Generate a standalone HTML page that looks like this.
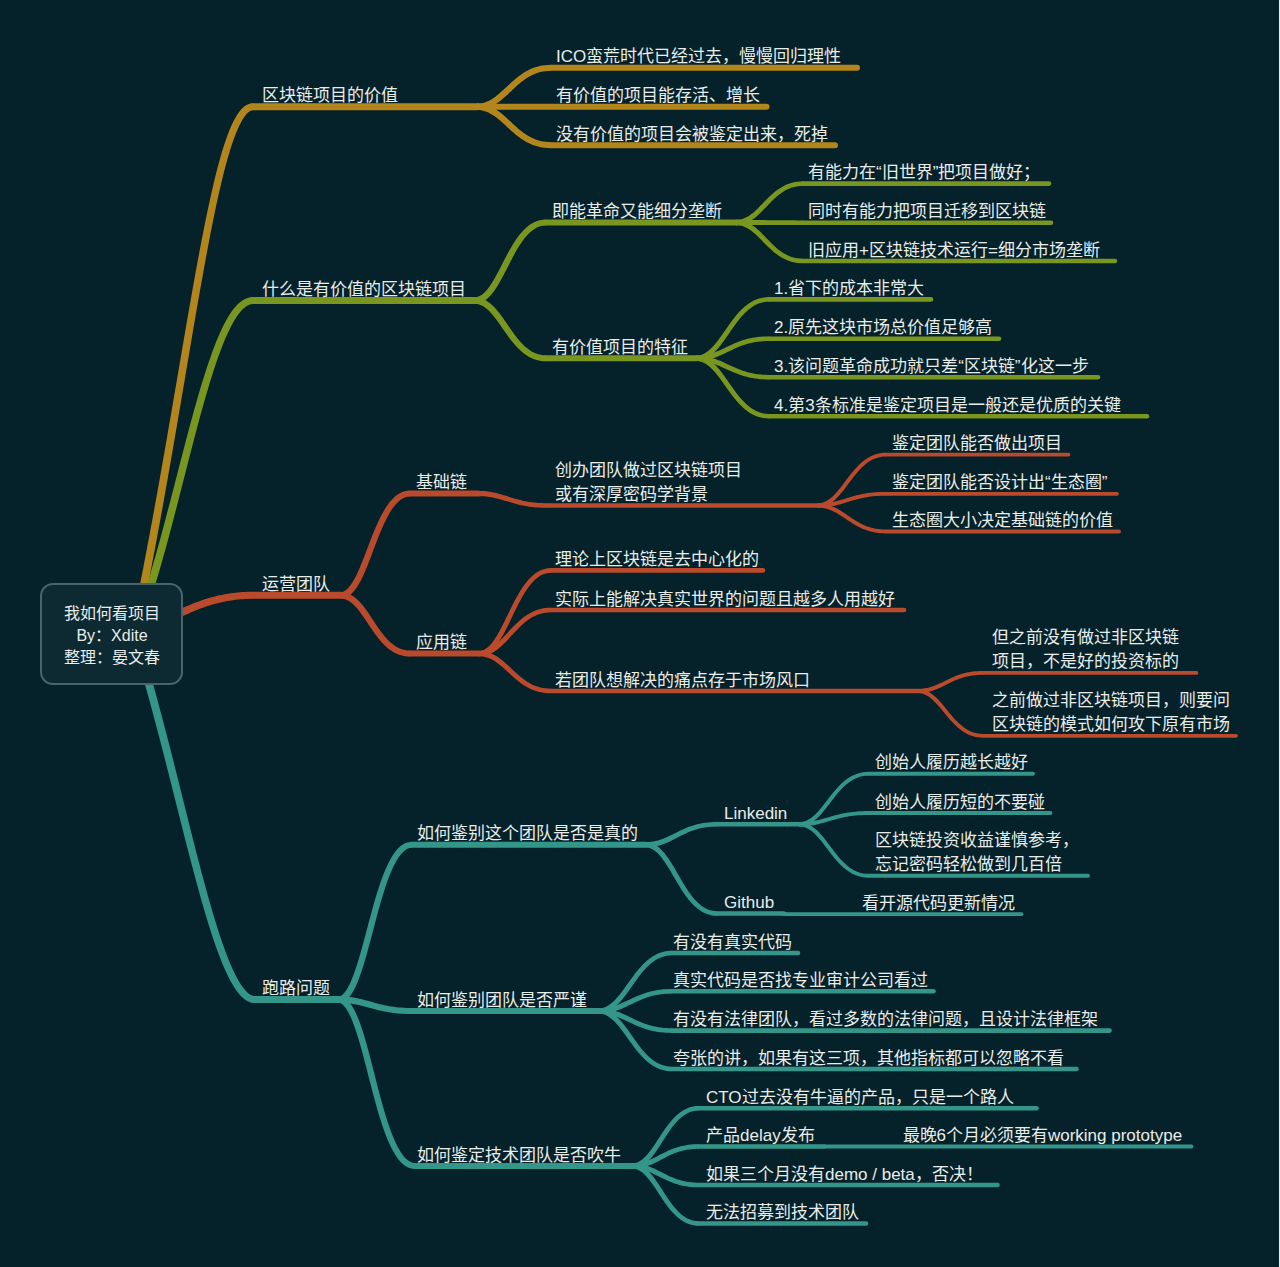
<!DOCTYPE html>
<html lang="zh-CN"><head><meta charset="utf-8"><title>我如何看项目</title>
<style>
html,body{margin:0;padding:0;}
body{width:1280px;height:1267px;overflow:hidden;background:#05212a;position:relative;font-family:"Liberation Sans",sans-serif;}
svg{position:absolute;left:0;top:0;}
path{fill:none;stroke-linecap:round;stroke-linejoin:round;}
path.f{stroke:none;}
.t{position:absolute;color:#e9ede9;font-size:17px;line-height:24px;white-space:nowrap;}
.center{position:absolute;left:40px;top:583px;width:139px;height:98px;border:2px solid #48646d;border-radius:13px;background:#0d2a33;}
.ct{position:absolute;left:41px;top:603px;width:142px;text-align:center;color:#e9ede9;font-size:16px;line-height:22px;white-space:nowrap;}
</style></head><body>
<svg width="1280" height="1267" viewBox="0 0 1280 1267">
<path class="f" d="M137.92,634.82 L140.66,621.56 L143.35,608.31 L146.00,595.08 L148.59,581.88 L151.14,568.71 L153.65,555.58 L156.11,542.50 L158.52,529.48 L160.90,516.52 L163.23,503.63 L165.53,490.82 L167.78,478.09 L170.00,465.46 L172.19,452.92 L174.34,440.49 L176.46,428.17 L178.55,415.98 L180.60,403.91 L182.63,391.97 L184.63,380.18 L186.60,368.54 L188.55,357.06 L190.48,345.74 L192.38,334.59 L194.26,323.62 L196.12,312.83 L197.96,302.24 L199.78,291.85 L201.59,281.66 L203.38,271.70 L205.15,261.95 L206.92,252.43 L208.67,243.15 L210.41,234.11 L212.15,225.33 L213.87,216.80 L215.59,208.54 L217.30,200.55 L219.01,192.85 L220.72,185.43 L222.42,178.31 L224.12,171.50 L225.82,164.99 L227.53,158.81 L229.23,152.95 L230.93,147.44 L232.64,142.26 L234.35,137.44 L236.06,132.98 L237.78,128.90 L239.49,125.20 L241.19,121.89 L242.88,118.99 L244.55,116.51 L246.18,114.45 L247.75,112.84 L249.23,111.65 L250.59,110.87 L251.83,110.44 L253.00,110.30 L253.00,103.30 L250.29,103.59 L247.70,104.46 L245.27,105.82 L243.01,107.60 L240.87,109.77 L238.83,112.31 L236.86,115.20 L234.94,118.45 L233.06,122.05 L231.22,126.00 L229.40,130.30 L227.60,134.94 L225.82,139.92 L224.05,145.23 L222.29,150.86 L220.54,156.82 L218.79,163.10 L217.05,169.68 L215.31,176.57 L213.58,183.75 L211.84,191.22 L210.11,198.98 L208.37,207.01 L206.62,215.31 L204.87,223.87 L203.12,232.68 L201.35,241.75 L199.58,251.05 L197.80,260.59 L196.00,270.35 L194.19,280.34 L192.36,290.54 L190.52,300.94 L188.66,311.54 L186.78,322.33 L184.89,333.30 L182.97,344.45 L181.03,355.78 L179.06,367.26 L177.07,378.90 L175.06,390.68 L173.01,402.61 L170.94,414.67 L168.84,426.86 L166.71,439.17 L164.54,451.59 L162.34,464.11 L160.10,476.73 L157.83,489.44 L155.52,502.24 L153.18,515.11 L150.79,528.05 L148.36,541.05 L145.88,554.11 L143.37,567.21 L140.81,580.35 L138.20,593.53 L135.54,606.73 L132.84,619.95 L130.08,633.18Z" style="fill:#b3861d"/>
<path d="M253,106.8 L477,106.8" stroke="#b3861d" stroke-width="7"/>
<path d="M551,67.8 L857,67.8" stroke="#b3861d" stroke-width="6"/>
<path class="f" d="M477.00,110.05 L479.55,109.94 L482.02,109.65 L484.40,109.18 L486.69,108.54 L488.91,107.74 L491.04,106.81 L493.10,105.76 L495.09,104.60 L497.02,103.34 L498.89,102.00 L500.72,100.58 L502.50,99.11 L504.26,97.59 L505.99,96.02 L507.70,94.43 L509.41,92.82 L511.11,91.20 L512.81,89.58 L514.53,87.96 L516.26,86.37 L518.01,84.81 L519.79,83.29 L521.60,81.81 L523.45,80.39 L525.34,79.04 L527.29,77.76 L529.29,76.56 L531.35,75.45 L533.48,74.44 L535.69,73.54 L537.98,72.75 L540.37,72.08 L542.85,71.54 L545.45,71.14 L548.16,70.89 L551.00,70.80 L551.00,64.80 L547.80,64.89 L544.73,65.16 L541.77,65.60 L538.92,66.20 L536.19,66.95 L533.56,67.84 L531.03,68.86 L528.61,69.99 L526.28,71.23 L524.03,72.55 L521.87,73.96 L519.79,75.43 L517.78,76.96 L515.83,78.53 L513.93,80.13 L512.09,81.75 L510.29,83.39 L508.53,85.02 L506.80,86.65 L505.09,88.26 L503.41,89.83 L501.74,91.36 L500.08,92.85 L498.42,94.27 L496.76,95.62 L495.10,96.89 L493.43,98.07 L491.74,99.16 L490.04,100.14 L488.31,101.01 L486.55,101.76 L484.76,102.39 L482.91,102.89 L481.02,103.26 L479.05,103.48 L477.00,103.55Z" style="fill:#b3861d"/>
<path d="M477,106.8 L766.5,106.8" stroke="#b3861d" stroke-width="6"/>
<path d="M551,145.2 L835,145.2" stroke="#b3861d" stroke-width="6"/>
<path class="f" d="M477.00,110.05 L479.05,110.12 L481.02,110.34 L482.93,110.70 L484.77,111.19 L486.57,111.81 L488.33,112.56 L490.06,113.41 L491.76,114.38 L493.45,115.45 L495.12,116.61 L496.78,117.86 L498.44,119.19 L500.09,120.59 L501.76,122.05 L503.43,123.56 L505.11,125.11 L506.82,126.69 L508.55,128.29 L510.31,129.90 L512.11,131.51 L513.95,133.11 L515.84,134.69 L517.79,136.24 L519.81,137.74 L521.89,139.19 L524.05,140.57 L526.29,141.88 L528.63,143.09 L531.05,144.21 L533.57,145.21 L536.20,146.09 L538.93,146.83 L541.77,147.42 L544.73,147.85 L547.81,148.11 L551.00,148.20 L551.00,142.20 L548.16,142.11 L545.44,141.86 L542.84,141.47 L540.36,140.94 L537.97,140.28 L535.68,139.50 L533.47,138.61 L531.33,137.61 L529.27,136.52 L527.27,135.34 L525.32,134.08 L523.43,132.75 L521.58,131.35 L519.77,129.90 L517.99,128.40 L516.24,126.86 L514.51,125.29 L512.79,123.71 L511.09,122.11 L509.39,120.52 L507.68,118.93 L505.97,117.36 L504.24,115.82 L502.48,114.32 L500.70,112.87 L498.87,111.47 L497.00,110.15 L495.07,108.91 L493.08,107.77 L491.02,106.73 L488.89,105.82 L486.68,105.04 L484.39,104.41 L482.01,103.94 L479.55,103.65 L477.00,103.55Z" style="fill:#b3861d"/>
<path class="f" d="M137.71,635.49 L139.96,629.74 L142.19,623.83 L144.38,617.76 L146.56,611.53 L148.71,605.16 L150.84,598.66 L152.94,592.04 L155.03,585.30 L157.10,578.45 L159.14,571.51 L161.17,564.48 L163.19,557.37 L165.18,550.18 L167.16,542.94 L169.13,535.65 L171.09,528.31 L173.03,520.94 L174.96,513.54 L176.88,506.13 L178.79,498.72 L180.69,491.30 L182.58,483.90 L184.46,476.52 L186.34,469.17 L188.21,461.86 L190.07,454.60 L191.93,447.39 L193.79,440.26 L195.64,433.20 L197.50,426.22 L199.35,419.34 L201.20,412.57 L203.05,405.91 L204.90,399.37 L206.75,392.97 L208.61,386.70 L210.46,380.59 L212.33,374.64 L214.19,368.86 L216.06,363.26 L217.94,357.85 L219.82,352.64 L221.71,347.63 L223.60,342.85 L225.50,338.29 L227.41,333.98 L229.32,329.91 L231.24,326.11 L233.16,322.57 L235.08,319.32 L237.00,316.36 L238.91,313.70 L240.81,311.36 L242.69,309.34 L244.53,307.65 L246.33,306.30 L248.08,305.27 L249.76,304.56 L251.39,304.14 L253.00,304.00 L253.00,297.00 L250.23,297.22 L247.53,297.89 L244.93,298.97 L242.42,300.41 L240.02,302.19 L237.70,304.29 L235.44,306.68 L233.25,309.36 L231.10,312.31 L228.99,315.54 L226.91,319.02 L224.86,322.76 L222.83,326.74 L220.83,330.97 L218.84,335.42 L216.87,340.10 L214.92,345.00 L212.97,350.10 L211.04,355.40 L209.12,360.89 L207.21,366.56 L205.31,372.40 L203.41,378.41 L201.52,384.57 L199.64,390.87 L197.75,397.32 L195.88,403.89 L194.00,410.58 L192.13,417.38 L190.25,424.28 L188.38,431.27 L186.50,438.34 L184.63,445.49 L182.75,452.70 L180.86,459.97 L178.98,467.28 L177.08,474.63 L175.18,482.00 L173.28,489.40 L171.36,496.80 L169.44,504.21 L167.51,511.60 L165.57,518.98 L163.61,526.32 L161.65,533.63 L159.67,540.90 L157.68,548.11 L155.68,555.25 L153.66,562.32 L151.63,569.31 L149.58,576.20 L147.51,582.99 L145.42,589.67 L143.32,596.23 L141.20,602.66 L139.06,608.95 L136.90,615.08 L134.72,621.06 L132.51,626.88 L130.29,632.51Z" style="fill:#789620"/>
<path d="M253,300.5 L474.5,300.5" stroke="#789620" stroke-width="7"/>
<path d="M546,222.5 L736,222.5" stroke="#789620" stroke-width="6"/>
<path class="f" d="M474.50,303.75 L477.24,303.52 L479.86,302.88 L482.35,301.87 L484.69,300.52 L486.90,298.90 L488.99,297.02 L490.97,294.92 L492.87,292.63 L494.71,290.16 L496.48,287.52 L498.22,284.75 L499.92,281.85 L501.59,278.85 L503.24,275.76 L504.88,272.61 L506.52,269.40 L508.16,266.17 L509.81,262.93 L511.48,259.70 L513.16,256.50 L514.87,253.35 L516.61,250.27 L518.38,247.28 L520.19,244.41 L522.05,241.67 L523.95,239.09 L525.89,236.68 L527.89,234.46 L529.94,232.46 L532.04,230.68 L534.19,229.15 L536.40,227.87 L538.67,226.86 L541.01,226.12 L543.45,225.66 L546.00,225.50 L546.00,219.50 L542.72,219.69 L539.56,220.27 L536.53,221.21 L533.65,222.48 L530.92,224.04 L528.31,225.87 L525.84,227.94 L523.49,230.23 L521.24,232.70 L519.09,235.33 L517.02,238.12 L515.03,241.03 L513.11,244.05 L511.25,247.16 L509.44,250.33 L507.67,253.56 L505.95,256.81 L504.25,260.07 L502.58,263.32 L500.93,266.54 L499.30,269.71 L497.67,272.81 L496.05,275.81 L494.42,278.70 L492.79,281.46 L491.15,284.05 L489.51,286.47 L487.85,288.68 L486.18,290.68 L484.51,292.42 L482.84,293.91 L481.17,295.13 L479.51,296.06 L477.87,296.73 L476.21,297.12 L474.50,297.25Z" style="fill:#789620"/>
<path d="M803,183.6 L1049,183.6" stroke="#789620" stroke-width="4.6"/>
<path class="f" d="M736.00,225.15 L738.31,225.04 L740.54,224.75 L742.69,224.27 L744.76,223.63 L746.75,222.84 L748.67,221.92 L750.52,220.87 L752.31,219.72 L754.04,218.47 L755.72,217.14 L757.36,215.74 L758.97,214.27 L760.54,212.76 L762.10,211.20 L763.65,209.61 L765.19,208.01 L766.72,206.39 L768.27,204.77 L769.82,203.16 L771.39,201.56 L772.98,200.00 L774.59,198.47 L776.24,196.99 L777.92,195.56 L779.65,194.20 L781.42,192.91 L783.24,191.71 L785.12,190.59 L787.06,189.57 L789.07,188.66 L791.16,187.87 L793.33,187.19 L795.59,186.65 L797.95,186.25 L800.42,185.99 L803.00,185.90 L803.00,181.30 L800.12,181.38 L797.34,181.65 L794.67,182.08 L792.11,182.68 L789.64,183.42 L787.27,184.30 L785.00,185.31 L782.82,186.43 L780.72,187.65 L778.70,188.96 L776.75,190.35 L774.88,191.81 L773.06,193.32 L771.30,194.88 L769.59,196.47 L767.93,198.08 L766.30,199.70 L764.70,201.33 L763.14,202.95 L761.59,204.55 L760.06,206.12 L758.54,207.65 L757.03,209.14 L755.52,210.56 L754.01,211.91 L752.49,213.19 L750.96,214.37 L749.42,215.46 L747.86,216.45 L746.28,217.32 L744.68,218.07 L743.04,218.70 L741.37,219.20 L739.64,219.56 L737.86,219.78 L736.00,219.85Z" style="fill:#789620"/>
<path d="M803,222.7 L1051,222.7" stroke="#789620" stroke-width="4.6"/>
<path class="f" d="M736.00,225.15 L738.08,225.14 L740.09,225.13 L742.02,225.12 L743.90,225.12 L745.71,225.11 L747.47,225.11 L749.18,225.10 L750.85,225.10 L752.49,225.09 L754.09,225.09 L755.67,225.09 L757.23,225.09 L758.77,225.08 L760.31,225.08 L761.84,225.08 L763.37,225.08 L764.92,225.08 L766.47,225.07 L768.05,225.07 L769.64,225.07 L771.27,225.07 L772.93,225.07 L774.64,225.07 L776.39,225.06 L778.19,225.06 L780.05,225.06 L781.97,225.06 L783.96,225.05 L786.03,225.05 L788.17,225.04 L790.40,225.04 L792.71,225.03 L795.13,225.03 L797.64,225.02 L800.27,225.01 L803.00,225.00 L803.00,220.40 L800.27,220.39 L797.65,220.38 L795.13,220.37 L792.72,220.35 L790.40,220.34 L788.18,220.33 L786.04,220.31 L783.97,220.30 L781.99,220.28 L780.07,220.27 L778.21,220.25 L776.41,220.23 L774.66,220.21 L772.96,220.20 L771.30,220.18 L769.67,220.16 L768.07,220.14 L766.50,220.13 L764.94,220.11 L763.40,220.09 L761.87,220.07 L760.33,220.05 L758.80,220.04 L757.25,220.02 L755.69,220.00 L754.11,219.98 L752.51,219.97 L750.87,219.95 L749.20,219.94 L747.48,219.92 L745.72,219.91 L743.90,219.90 L742.03,219.88 L740.09,219.87 L738.08,219.86 L736.00,219.85Z" style="fill:#789620"/>
<path d="M803,261 L1115,261" stroke="#789620" stroke-width="4.6"/>
<path class="f" d="M736.00,225.15 L737.86,225.22 L739.65,225.44 L741.37,225.80 L743.05,226.29 L744.69,226.91 L746.29,227.66 L747.87,228.52 L749.43,229.49 L750.97,230.57 L752.50,231.75 L754.02,233.01 L755.53,234.35 L757.04,235.75 L758.55,237.22 L760.07,238.74 L761.60,240.29 L763.14,241.88 L764.71,243.48 L766.31,245.09 L767.93,246.70 L769.60,248.29 L771.31,249.87 L773.07,251.41 L774.88,252.90 L776.76,254.34 L778.71,255.72 L780.73,257.02 L782.83,258.23 L785.01,259.34 L787.28,260.33 L789.65,261.20 L792.11,261.94 L794.68,262.53 L797.34,262.96 L800.12,263.22 L803.00,263.30 L803.00,258.70 L800.42,258.61 L797.95,258.36 L795.59,257.96 L793.32,257.42 L791.15,256.75 L789.06,255.96 L787.05,255.06 L785.11,254.06 L783.23,252.95 L781.41,251.76 L779.64,250.48 L777.91,249.13 L776.23,247.72 L774.58,246.26 L772.97,244.74 L771.38,243.19 L769.81,241.62 L768.26,240.02 L766.72,238.42 L765.18,236.82 L763.64,235.23 L762.09,233.66 L760.54,232.12 L758.96,230.62 L757.35,229.17 L755.71,227.78 L754.03,226.46 L752.30,225.22 L750.51,224.08 L748.66,223.05 L746.74,222.13 L744.75,221.35 L742.68,220.72 L740.53,220.25 L738.31,219.96 L736.00,219.85Z" style="fill:#789620"/>
<path d="M546,358.3 L696,358.3" stroke="#789620" stroke-width="6"/>
<path class="f" d="M474.50,303.75 L476.34,303.85 L478.11,304.16 L479.83,304.67 L481.53,305.38 L483.21,306.29 L484.87,307.38 L486.52,308.66 L488.17,310.12 L489.80,311.73 L491.43,313.50 L493.05,315.40 L494.66,317.42 L496.28,319.55 L497.89,321.76 L499.51,324.04 L501.14,326.39 L502.79,328.77 L504.46,331.18 L506.16,333.60 L507.90,336.02 L509.67,338.42 L511.49,340.79 L513.37,343.10 L515.30,345.36 L517.31,347.53 L519.39,349.61 L521.56,351.58 L523.82,353.43 L526.19,355.12 L528.66,356.66 L531.25,358.01 L533.96,359.15 L536.79,360.07 L539.74,360.75 L542.81,361.16 L546.00,361.30 L546.00,355.30 L543.36,355.17 L540.83,354.82 L538.42,354.25 L536.10,353.48 L533.86,352.52 L531.69,351.38 L529.59,350.06 L527.55,348.59 L525.57,346.95 L523.64,345.18 L521.76,343.28 L519.92,341.27 L518.12,339.16 L516.36,336.96 L514.64,334.70 L512.94,332.37 L511.26,330.01 L509.60,327.62 L507.95,325.22 L506.31,322.82 L504.67,320.44 L503.02,318.09 L501.36,315.79 L499.67,313.55 L497.96,311.38 L496.21,309.30 L494.41,307.33 L492.55,305.47 L490.63,303.75 L488.63,302.18 L486.53,300.78 L484.33,299.58 L482.03,298.60 L479.62,297.87 L477.11,297.41 L474.50,297.25Z" style="fill:#789620"/>
<path d="M769,299.4 L931,299.4" stroke="#789620" stroke-width="4.6"/>
<path class="f" d="M696.00,360.95 L698.58,360.79 L701.07,360.33 L703.46,359.61 L705.74,358.63 L707.93,357.43 L710.02,356.04 L712.03,354.47 L713.96,352.74 L715.83,350.87 L717.64,348.88 L719.41,346.78 L721.15,344.58 L722.85,342.31 L724.54,339.97 L726.22,337.58 L727.89,335.16 L729.57,332.71 L731.25,330.26 L732.94,327.82 L734.66,325.40 L736.40,323.02 L738.17,320.70 L739.98,318.44 L741.82,316.27 L743.72,314.20 L745.66,312.24 L747.66,310.41 L749.71,308.72 L751.83,307.18 L754.02,305.81 L756.28,304.61 L758.62,303.61 L761.05,302.80 L763.59,302.21 L766.23,301.83 L769.00,301.70 L769.00,297.10 L765.81,297.23 L762.75,297.64 L759.80,298.32 L756.97,299.23 L754.27,300.37 L751.67,301.72 L749.19,303.25 L746.81,304.95 L744.53,306.80 L742.35,308.78 L740.24,310.87 L738.21,313.07 L736.24,315.35 L734.34,317.69 L732.49,320.09 L730.68,322.52 L728.92,324.98 L727.18,327.44 L725.47,329.89 L723.79,332.32 L722.12,334.71 L720.46,337.04 L718.80,339.30 L717.14,341.48 L715.48,343.55 L713.81,345.50 L712.13,347.32 L710.43,348.99 L708.72,350.50 L706.99,351.83 L705.24,352.98 L703.47,353.93 L701.68,354.68 L699.84,355.22 L697.96,355.54 L696.00,355.65Z" style="fill:#789620"/>
<path d="M769,338.7 L999,338.7" stroke="#789620" stroke-width="4.6"/>
<path class="f" d="M696.00,360.95 L698.37,360.89 L700.66,360.75 L702.88,360.52 L705.02,360.21 L707.10,359.82 L709.11,359.37 L711.06,358.85 L712.96,358.28 L714.82,357.66 L716.63,356.99 L718.40,356.28 L720.14,355.55 L721.86,354.78 L723.56,353.99 L725.24,353.19 L726.92,352.37 L728.60,351.55 L730.29,350.73 L731.98,349.91 L733.70,349.10 L735.43,348.31 L737.20,347.53 L739.01,346.77 L740.87,346.04 L742.77,345.34 L744.73,344.68 L746.76,344.06 L748.85,343.48 L751.03,342.95 L753.29,342.47 L755.64,342.05 L758.09,341.69 L760.64,341.40 L763.31,341.19 L766.09,341.05 L769.00,341.00 L769.00,336.40 L765.95,336.44 L763.02,336.56 L760.21,336.77 L757.51,337.05 L754.91,337.41 L752.40,337.84 L749.99,338.32 L747.67,338.87 L745.44,339.47 L743.28,340.11 L741.19,340.80 L739.17,341.52 L737.21,342.27 L735.30,343.04 L733.45,343.84 L731.65,344.64 L729.88,345.45 L728.14,346.27 L726.44,347.08 L724.76,347.88 L723.09,348.67 L721.44,349.43 L719.79,350.18 L718.14,350.89 L716.49,351.57 L714.82,352.22 L713.14,352.82 L711.42,353.37 L709.68,353.88 L707.90,354.33 L706.07,354.72 L704.19,355.05 L702.25,355.31 L700.25,355.50 L698.16,355.62 L696.00,355.65Z" style="fill:#789620"/>
<path d="M769,377.2 L1098,377.2" stroke="#789620" stroke-width="4.6"/>
<path class="f" d="M696.00,360.95 L698.17,360.98 L700.25,361.09 L702.26,361.28 L704.21,361.53 L706.09,361.85 L707.92,362.23 L709.70,362.66 L711.45,363.15 L713.16,363.68 L714.85,364.26 L716.52,364.88 L718.17,365.54 L719.82,366.23 L721.47,366.95 L723.13,367.69 L724.79,368.44 L726.47,369.22 L728.18,370.00 L729.91,370.78 L731.68,371.56 L733.48,372.34 L735.33,373.10 L737.24,373.85 L739.19,374.57 L741.21,375.27 L743.30,375.93 L745.46,376.55 L747.69,377.12 L750.01,377.65 L752.42,378.12 L754.92,378.53 L757.52,378.87 L760.22,379.15 L763.03,379.35 L765.95,379.47 L769.00,379.50 L769.00,374.90 L766.09,374.85 L763.30,374.72 L760.63,374.51 L758.08,374.23 L755.63,373.89 L753.27,373.48 L751.01,373.02 L748.83,372.51 L746.73,371.95 L744.71,371.34 L742.74,370.70 L740.84,370.03 L738.99,369.32 L737.18,368.59 L735.40,367.84 L733.66,367.07 L731.95,366.29 L730.25,365.50 L728.57,364.71 L726.89,363.92 L725.21,363.13 L723.53,362.36 L721.83,361.60 L720.11,360.86 L718.37,360.15 L716.60,359.47 L714.79,358.82 L712.94,358.22 L711.04,357.67 L709.09,357.17 L707.08,356.74 L705.01,356.37 L702.87,356.07 L700.66,355.85 L698.37,355.70 L696.00,355.65Z" style="fill:#789620"/>
<path d="M769,416.2 L1147,416.2" stroke="#789620" stroke-width="4.6"/>
<path class="f" d="M696.00,360.95 L697.96,361.05 L699.85,361.38 L701.69,361.91 L703.49,362.64 L705.26,363.58 L707.01,364.70 L708.74,366.01 L710.45,367.49 L712.14,369.14 L713.82,370.92 L715.49,372.84 L717.15,374.88 L718.81,377.02 L720.47,379.24 L722.13,381.53 L723.80,383.88 L725.49,386.27 L727.19,388.68 L728.93,391.10 L730.69,393.51 L732.50,395.90 L734.35,398.26 L736.26,400.57 L738.22,402.81 L740.25,404.96 L742.36,407.03 L744.55,408.97 L746.83,410.79 L749.21,412.46 L751.69,413.97 L754.28,415.29 L756.99,416.41 L759.81,417.31 L762.75,417.97 L765.82,418.37 L769.00,418.50 L769.00,413.90 L766.23,413.77 L763.58,413.40 L761.04,412.81 L758.61,412.02 L756.26,411.03 L754.00,409.86 L751.82,408.51 L749.70,407.00 L747.64,405.33 L745.65,403.53 L743.70,401.61 L741.81,399.57 L739.96,397.44 L738.16,395.22 L736.39,392.94 L734.65,390.60 L732.93,388.22 L731.24,385.82 L729.56,383.41 L727.88,381.01 L726.21,378.63 L724.53,376.28 L722.84,373.98 L721.13,371.74 L719.40,369.58 L717.63,367.52 L715.81,365.56 L713.94,363.72 L712.01,362.02 L710.00,360.47 L707.91,359.10 L705.73,357.93 L703.44,356.97 L701.06,356.26 L698.58,355.81 L696.00,355.65Z" style="fill:#789620"/>
<path class="f" d="M135.35,637.76 L137.33,637.03 L139.29,636.29 L141.23,635.52 L143.15,634.74 L145.06,633.95 L146.95,633.15 L148.83,632.34 L150.69,631.51 L152.54,630.68 L154.37,629.83 L156.20,628.99 L158.01,628.13 L159.82,627.27 L161.62,626.41 L163.41,625.54 L165.20,624.67 L166.98,623.80 L168.75,622.93 L170.53,622.06 L172.30,621.20 L174.07,620.33 L175.84,619.47 L177.61,618.62 L179.38,617.77 L181.16,616.92 L182.94,616.09 L184.72,615.26 L186.51,614.44 L188.31,613.64 L190.11,612.84 L191.92,612.06 L193.75,611.29 L195.58,610.54 L197.42,609.80 L199.28,609.07 L201.16,608.36 L203.04,607.67 L204.94,607.00 L206.86,606.35 L208.80,605.72 L210.76,605.11 L212.74,604.52 L214.74,603.96 L216.76,603.42 L218.80,602.90 L220.87,602.41 L222.96,601.95 L225.08,601.52 L227.23,601.11 L229.41,600.73 L231.62,600.39 L233.85,600.07 L236.12,599.79 L238.43,599.54 L240.76,599.32 L243.14,599.14 L245.54,599.00 L247.99,598.90 L250.48,598.83 L253.00,598.80 L253.00,591.80 L250.36,591.81 L247.77,591.87 L245.21,591.96 L242.68,592.09 L240.20,592.26 L237.74,592.47 L235.33,592.72 L232.94,593.00 L230.59,593.31 L228.27,593.66 L225.98,594.04 L223.72,594.45 L221.49,594.89 L219.28,595.36 L217.11,595.85 L214.96,596.38 L212.83,596.93 L210.73,597.50 L208.66,598.10 L206.60,598.72 L204.57,599.37 L202.56,600.03 L200.57,600.72 L198.60,601.42 L196.65,602.14 L194.72,602.87 L192.80,603.62 L190.90,604.39 L189.01,605.17 L187.14,605.96 L185.28,606.76 L183.43,607.57 L181.59,608.39 L179.77,609.22 L177.95,610.05 L176.14,610.89 L174.34,611.74 L172.54,612.59 L170.75,613.44 L168.96,614.29 L167.18,615.15 L165.40,616.00 L163.62,616.86 L161.84,617.71 L160.06,618.55 L158.28,619.40 L156.49,620.24 L154.71,621.07 L152.91,621.89 L151.12,622.71 L149.32,623.52 L147.51,624.32 L145.69,625.10 L143.86,625.88 L142.02,626.64 L140.17,627.39 L138.31,628.13 L136.44,628.85 L134.55,629.55 L132.65,630.24Z" style="fill:#b94a2b"/>
<path d="M253,595.3 L340.7,595.3" stroke="#b94a2b" stroke-width="7"/>
<path d="M410,493.5 L478,493.5" stroke="#b94a2b" stroke-width="6"/>
<path class="f" d="M340.70,598.55 L343.54,598.24 L346.22,597.36 L348.71,595.99 L351.00,594.23 L353.13,592.12 L355.12,589.70 L357.02,587.01 L358.83,584.06 L360.59,580.88 L362.29,577.48 L363.95,573.90 L365.58,570.15 L367.20,566.25 L368.79,562.24 L370.38,558.14 L371.96,553.96 L373.55,549.75 L375.15,545.51 L376.77,541.29 L378.40,537.10 L380.06,532.98 L381.76,528.94 L383.49,525.02 L385.26,521.24 L387.07,517.64 L388.93,514.23 L390.84,511.05 L392.80,508.12 L394.81,505.48 L396.86,503.15 L398.95,501.14 L401.08,499.49 L403.23,498.20 L405.42,497.27 L407.66,496.70 L410.00,496.50 L410.00,490.50 L406.68,490.76 L403.50,491.55 L400.49,492.81 L397.65,494.49 L394.98,496.55 L392.47,498.94 L390.09,501.62 L387.83,504.57 L385.67,507.76 L383.61,511.17 L381.62,514.77 L379.71,518.54 L377.86,522.46 L376.07,526.49 L374.33,530.61 L372.62,534.80 L370.95,539.04 L369.31,543.29 L367.69,547.53 L366.09,551.73 L364.51,555.88 L362.92,559.93 L361.34,563.87 L359.76,567.67 L358.16,571.29 L356.56,574.71 L354.94,577.91 L353.31,580.84 L351.67,583.49 L350.02,585.81 L348.37,587.79 L346.74,589.39 L345.16,590.60 L343.63,591.43 L342.17,591.90 L340.70,592.05Z" style="fill:#b94a2b"/>
<path d="M547,505.5 L817.6,505.5" stroke="#b94a2b" stroke-width="4.6"/>
<path class="f" d="M478.00,496.15 L480.08,496.17 L482.08,496.23 L484.00,496.35 L485.87,496.51 L487.67,496.71 L489.42,496.95 L491.13,497.23 L492.79,497.54 L494.43,497.88 L496.04,498.24 L497.62,498.64 L499.20,499.05 L500.76,499.49 L502.32,499.94 L503.89,500.41 L505.46,500.89 L507.05,501.37 L508.66,501.86 L510.30,502.36 L511.96,502.85 L513.66,503.34 L515.40,503.82 L517.19,504.28 L519.03,504.74 L520.93,505.17 L522.89,505.58 L524.91,505.97 L527.01,506.33 L529.19,506.66 L531.44,506.95 L533.79,507.21 L536.22,507.42 L538.76,507.59 L541.39,507.71 L544.14,507.78 L547.00,507.80 L547.00,503.20 L544.23,503.16 L541.58,503.08 L539.04,502.94 L536.60,502.76 L534.26,502.53 L532.02,502.27 L529.86,501.97 L527.79,501.64 L525.79,501.28 L523.86,500.89 L521.99,500.48 L520.18,500.04 L518.41,499.59 L516.69,499.12 L515.01,498.64 L513.36,498.14 L511.74,497.64 L510.13,497.14 L508.54,496.63 L506.95,496.12 L505.36,495.62 L503.77,495.13 L502.17,494.64 L500.55,494.17 L498.92,493.72 L497.25,493.28 L495.55,492.87 L493.82,492.49 L492.04,492.14 L490.22,491.83 L488.34,491.55 L486.41,491.31 L484.41,491.12 L482.35,490.98 L480.21,490.89 L478.00,490.85Z" style="fill:#b94a2b"/>
<path d="M886,454.6 L1068.5,454.6" stroke="#b94a2b" stroke-width="3.8"/>
<path class="f" d="M817.60,507.60 L819.95,507.47 L822.23,507.09 L824.41,506.47 L826.51,505.65 L828.53,504.64 L830.46,503.45 L832.32,502.11 L834.12,500.63 L835.86,499.02 L837.56,497.31 L839.22,495.50 L840.84,493.61 L842.44,491.65 L844.03,489.63 L845.60,487.57 L847.17,485.48 L848.74,483.37 L850.32,481.25 L851.91,479.14 L853.52,477.05 L855.16,475.00 L856.82,472.99 L858.52,471.04 L860.26,469.16 L862.04,467.36 L863.87,465.67 L865.76,464.08 L867.70,462.61 L869.70,461.27 L871.77,460.08 L873.91,459.04 L876.13,458.16 L878.44,457.46 L880.85,456.94 L883.37,456.61 L886.00,456.50 L886.00,452.70 L883.05,452.82 L880.21,453.17 L877.49,453.75 L874.87,454.53 L872.36,455.51 L869.96,456.66 L867.66,457.98 L865.45,459.44 L863.32,461.03 L861.28,462.73 L859.32,464.54 L857.42,466.43 L855.59,468.40 L853.81,470.42 L852.08,472.49 L850.40,474.60 L848.74,476.72 L847.12,478.85 L845.53,480.97 L843.95,483.07 L842.39,485.13 L840.83,487.15 L839.28,489.11 L837.73,491.00 L836.17,492.79 L834.60,494.49 L833.02,496.07 L831.43,497.52 L829.81,498.84 L828.17,500.01 L826.51,501.02 L824.82,501.86 L823.09,502.52 L821.32,503.01 L819.50,503.30 L817.60,503.40Z" style="fill:#b94a2b"/>
<path d="M886,493.8 L1117,493.8" stroke="#b94a2b" stroke-width="3.8"/>
<path class="f" d="M817.60,507.60 L819.78,507.57 L821.88,507.48 L823.91,507.35 L825.88,507.17 L827.78,506.94 L829.63,506.68 L831.43,506.37 L833.18,506.04 L834.89,505.67 L836.56,505.28 L838.20,504.86 L839.82,504.43 L841.42,503.97 L843.00,503.51 L844.58,503.03 L846.15,502.54 L847.72,502.05 L849.31,501.56 L850.90,501.07 L852.52,500.59 L854.16,500.11 L855.83,499.64 L857.54,499.19 L859.30,498.75 L861.11,498.32 L862.97,497.92 L864.89,497.55 L866.88,497.20 L868.95,496.87 L871.10,496.59 L873.33,496.33 L875.66,496.12 L878.08,495.94 L880.61,495.81 L883.25,495.73 L886.00,495.70 L886.00,491.90 L883.17,491.92 L880.46,491.99 L877.85,492.12 L875.35,492.29 L872.94,492.50 L870.63,492.75 L868.40,493.04 L866.26,493.36 L864.19,493.71 L862.19,494.09 L860.26,494.49 L858.39,494.92 L856.57,495.36 L854.80,495.82 L853.08,496.29 L851.40,496.77 L849.75,497.25 L848.14,497.74 L846.54,498.22 L844.97,498.70 L843.41,499.17 L841.86,499.63 L840.30,500.08 L838.75,500.51 L837.18,500.92 L835.60,501.31 L834.00,501.67 L832.37,502.01 L830.71,502.32 L829.00,502.59 L827.26,502.83 L825.45,503.03 L823.59,503.19 L821.67,503.31 L819.67,503.38 L817.60,503.40Z" style="fill:#b94a2b"/>
<path d="M886,531.5 L1119,531.5" stroke="#b94a2b" stroke-width="3.8"/>
<path class="f" d="M817.60,507.60 L819.61,507.65 L821.54,507.81 L823.40,508.07 L825.20,508.42 L826.95,508.86 L828.65,509.38 L830.31,509.99 L831.94,510.66 L833.54,511.40 L835.12,512.21 L836.68,513.07 L838.23,513.98 L839.77,514.93 L841.32,515.93 L842.87,516.95 L844.43,518.00 L846.00,519.07 L847.60,520.15 L849.22,521.24 L850.88,522.33 L852.57,523.40 L854.30,524.46 L856.08,525.49 L857.92,526.50 L859.81,527.46 L861.77,528.38 L863.80,529.24 L865.91,530.05 L868.09,530.78 L870.36,531.44 L872.72,532.02 L875.17,532.50 L877.72,532.89 L880.37,533.17 L883.13,533.34 L886.00,533.40 L886.00,529.60 L883.29,529.54 L880.70,529.36 L878.22,529.09 L875.84,528.72 L873.56,528.25 L871.37,527.71 L869.26,527.08 L867.23,526.39 L865.28,525.63 L863.38,524.81 L861.55,523.94 L859.77,523.02 L858.03,522.06 L856.34,521.07 L854.68,520.04 L853.04,518.99 L851.44,517.92 L849.85,516.85 L848.27,515.76 L846.69,514.68 L845.12,513.61 L843.54,512.55 L841.95,511.51 L840.34,510.50 L838.71,509.53 L837.05,508.60 L835.35,507.72 L833.61,506.90 L831.82,506.15 L829.98,505.47 L828.08,504.87 L826.13,504.37 L824.10,503.96 L822.01,503.66 L819.84,503.47 L817.60,503.40Z" style="fill:#b94a2b"/>
<path d="M410,653.6 L479,653.6" stroke="#b94a2b" stroke-width="6"/>
<path class="f" d="M340.70,598.55 L342.45,598.65 L344.14,598.96 L345.80,599.47 L347.42,600.18 L349.04,601.08 L350.64,602.18 L352.24,603.47 L353.83,604.94 L355.42,606.57 L356.99,608.35 L358.56,610.27 L360.13,612.30 L361.69,614.45 L363.26,616.68 L364.83,618.98 L366.41,621.35 L368.01,623.75 L369.63,626.18 L371.28,628.62 L372.96,631.06 L374.68,633.48 L376.44,635.87 L378.26,638.21 L380.14,640.48 L382.08,642.68 L384.10,644.78 L386.21,646.77 L388.40,648.63 L390.70,650.34 L393.10,651.89 L395.62,653.26 L398.26,654.42 L401.02,655.35 L403.89,656.04 L406.89,656.46 L410.00,656.60 L410.00,650.60 L407.46,650.47 L405.03,650.12 L402.71,649.55 L400.47,648.78 L398.31,647.82 L396.22,646.67 L394.20,645.35 L392.23,643.86 L390.31,642.22 L388.44,640.43 L386.62,638.52 L384.83,636.49 L383.09,634.36 L381.39,632.14 L379.71,629.86 L378.07,627.51 L376.44,625.13 L374.83,622.72 L373.24,620.30 L371.64,617.88 L370.05,615.48 L368.46,613.11 L366.84,610.79 L365.21,608.53 L363.55,606.34 L361.86,604.24 L360.11,602.25 L358.31,600.38 L356.44,598.64 L354.50,597.05 L352.46,595.64 L350.32,594.42 L348.07,593.43 L345.71,592.68 L343.25,592.21 L340.70,592.05Z" style="fill:#b94a2b"/>
<path d="M551,570.4 L763,570.4" stroke="#b94a2b" stroke-width="4.6"/>
<path class="f" d="M479.00,656.25 L481.68,656.01 L484.25,655.35 L486.68,654.29 L488.97,652.89 L491.14,651.20 L493.19,649.24 L495.16,647.04 L497.04,644.63 L498.86,642.03 L500.63,639.24 L502.36,636.31 L504.05,633.23 L505.73,630.05 L507.39,626.76 L509.03,623.40 L510.68,619.99 L512.33,616.54 L513.99,613.08 L515.66,609.63 L517.36,606.20 L519.08,602.83 L520.84,599.53 L522.63,596.33 L524.47,593.24 L526.35,590.29 L528.28,587.51 L530.27,584.90 L532.31,582.50 L534.41,580.32 L536.56,578.39 L538.78,576.71 L541.06,575.31 L543.41,574.20 L545.84,573.38 L548.36,572.88 L551.00,572.70 L551.00,568.10 L547.76,568.30 L544.65,568.90 L541.68,569.87 L538.84,571.19 L536.14,572.83 L533.57,574.74 L531.12,576.91 L528.79,579.30 L526.55,581.90 L524.41,584.68 L522.35,587.62 L520.36,590.70 L518.43,593.90 L516.57,597.19 L514.75,600.56 L512.98,603.99 L511.24,607.45 L509.53,610.92 L507.85,614.39 L506.19,617.82 L504.53,621.20 L502.89,624.51 L501.24,627.73 L499.60,630.82 L497.94,633.78 L496.28,636.57 L494.60,639.17 L492.91,641.57 L491.20,643.73 L489.47,645.63 L487.74,647.26 L486.00,648.60 L484.27,649.64 L482.54,650.37 L480.79,650.81 L479.00,650.95Z" style="fill:#b94a2b"/>
<path d="M551,610 L904,610" stroke="#b94a2b" stroke-width="4.6"/>
<path class="f" d="M479.00,656.25 L481.47,656.13 L483.86,655.80 L486.16,655.27 L488.38,654.56 L490.51,653.68 L492.57,652.65 L494.55,651.48 L496.46,650.20 L498.31,648.81 L500.11,647.32 L501.87,645.75 L503.59,644.12 L505.28,642.42 L506.96,640.68 L508.61,638.91 L510.27,637.11 L511.92,635.30 L513.58,633.48 L515.25,631.67 L516.93,629.89 L518.65,628.13 L520.39,626.41 L522.16,624.75 L523.98,623.15 L525.83,621.62 L527.74,620.17 L529.71,618.82 L531.74,617.56 L533.83,616.42 L536.00,615.40 L538.25,614.50 L540.59,613.75 L543.02,613.14 L545.56,612.69 L548.22,612.40 L551.00,612.30 L551.00,607.70 L547.91,607.79 L544.93,608.09 L542.07,608.58 L539.31,609.24 L536.67,610.08 L534.13,611.06 L531.70,612.19 L529.36,613.44 L527.11,614.81 L524.95,616.28 L522.86,617.83 L520.85,619.46 L518.91,621.15 L517.02,622.89 L515.19,624.67 L513.40,626.48 L511.65,628.30 L509.94,630.12 L508.26,631.93 L506.60,633.73 L504.95,635.49 L503.32,637.21 L501.69,638.88 L500.06,640.48 L498.43,642.00 L496.80,643.43 L495.15,644.77 L493.49,646.00 L491.81,647.11 L490.10,648.09 L488.37,648.94 L486.60,649.65 L484.79,650.21 L482.93,650.62 L481.00,650.87 L479.00,650.95Z" style="fill:#b94a2b"/>
<path d="M551,691 L917.5,691" stroke="#b94a2b" stroke-width="4.6"/>
<path class="f" d="M479.00,656.25 L481.04,656.32 L482.99,656.53 L484.88,656.89 L486.71,657.38 L488.50,657.99 L490.24,658.72 L491.95,659.57 L493.64,660.52 L495.30,661.57 L496.95,662.71 L498.58,663.94 L500.21,665.24 L501.83,666.61 L503.46,668.04 L505.09,669.51 L506.73,671.02 L508.39,672.56 L510.08,674.11 L511.79,675.68 L513.54,677.24 L515.32,678.79 L517.16,680.31 L519.05,681.81 L520.99,683.26 L523.00,684.66 L525.09,685.99 L527.25,687.24 L529.49,688.41 L531.82,689.48 L534.25,690.44 L536.77,691.28 L539.40,691.99 L542.13,692.56 L544.97,692.97 L547.93,693.22 L551.00,693.30 L551.00,688.70 L548.20,688.61 L545.52,688.36 L542.96,687.97 L540.50,687.44 L538.15,686.79 L535.88,686.02 L533.70,685.13 L531.60,684.15 L529.57,683.07 L527.60,681.90 L525.69,680.66 L523.83,679.35 L522.02,677.97 L520.25,676.55 L518.51,675.08 L516.80,673.57 L515.11,672.04 L513.44,670.49 L511.79,668.93 L510.13,667.37 L508.48,665.83 L506.82,664.30 L505.14,662.80 L503.45,661.35 L501.72,659.94 L499.96,658.59 L498.16,657.32 L496.31,656.12 L494.40,655.02 L492.42,654.02 L490.38,653.14 L488.26,652.39 L486.07,651.78 L483.80,651.33 L481.44,651.05 L479.00,650.95Z" style="fill:#b94a2b"/>
<path d="M983,672.9 L1196.5,672.9" stroke="#b94a2b" stroke-width="3.8"/>
<path class="f" d="M917.50,693.10 L919.62,693.05 L921.67,692.92 L923.65,692.71 L925.56,692.43 L927.42,692.08 L929.21,691.67 L930.96,691.19 L932.66,690.67 L934.32,690.10 L935.94,689.49 L937.53,688.84 L939.09,688.17 L940.63,687.46 L942.15,686.74 L943.66,686.00 L945.17,685.25 L946.67,684.50 L948.19,683.74 L949.71,682.99 L951.25,682.25 L952.82,681.51 L954.41,680.80 L956.04,680.10 L957.70,679.43 L959.42,678.78 L961.18,678.17 L963.00,677.60 L964.89,677.06 L966.85,676.58 L968.88,676.14 L970.99,675.75 L973.19,675.43 L975.49,675.16 L977.89,674.97 L980.39,674.85 L983.00,674.80 L983.00,671.00 L980.27,671.04 L977.64,671.15 L975.12,671.35 L972.70,671.61 L970.37,671.95 L968.13,672.34 L965.98,672.80 L963.90,673.30 L961.90,673.86 L959.96,674.46 L958.09,675.09 L956.29,675.76 L954.53,676.45 L952.83,677.17 L951.17,677.90 L949.55,678.65 L947.97,679.40 L946.42,680.16 L944.89,680.91 L943.38,681.65 L941.89,682.38 L940.40,683.09 L938.92,683.78 L937.44,684.45 L935.96,685.08 L934.46,685.68 L932.94,686.24 L931.40,686.76 L929.83,687.23 L928.22,687.65 L926.58,688.02 L924.88,688.33 L923.14,688.58 L921.33,688.76 L919.45,688.87 L917.50,688.90Z" style="fill:#b94a2b"/>
<path d="M983,735.8 L1236,735.8" stroke="#b94a2b" stroke-width="3.8"/>
<path class="f" d="M917.50,693.10 L919.33,693.19 L921.08,693.45 L922.78,693.87 L924.44,694.46 L926.05,695.20 L927.64,696.08 L929.21,697.11 L930.75,698.26 L932.27,699.54 L933.78,700.92 L935.28,702.41 L936.76,703.99 L938.25,705.64 L939.73,707.36 L941.22,709.14 L942.72,710.95 L944.23,712.80 L945.76,714.67 L947.31,716.54 L948.89,718.41 L950.51,720.26 L952.17,722.09 L953.87,723.87 L955.63,725.61 L957.45,727.28 L959.34,728.87 L961.30,730.37 L963.33,731.78 L965.45,733.06 L967.66,734.22 L969.96,735.24 L972.36,736.09 L974.86,736.78 L977.47,737.29 L980.18,737.60 L983.00,737.70 L983.00,733.90 L980.47,733.80 L978.06,733.51 L975.75,733.05 L973.53,732.43 L971.40,731.66 L969.35,730.74 L967.37,729.69 L965.46,728.52 L963.60,727.23 L961.80,725.83 L960.06,724.34 L958.35,722.76 L956.69,721.11 L955.07,719.40 L953.48,717.63 L951.91,715.83 L950.37,713.99 L948.85,712.13 L947.34,710.27 L945.83,708.41 L944.33,706.57 L942.82,704.75 L941.30,702.97 L939.77,701.24 L938.21,699.57 L936.62,697.98 L934.99,696.46 L933.31,695.05 L931.59,693.74 L929.80,692.55 L927.94,691.51 L926.01,690.61 L924.00,689.89 L921.91,689.35 L919.75,689.02 L917.50,688.90Z" style="fill:#b94a2b"/>
<path class="f" d="M130.19,635.22 L132.60,642.82 L134.99,650.51 L137.36,658.30 L139.70,666.17 L142.02,674.12 L144.31,682.13 L146.59,690.20 L148.85,698.32 L151.08,706.49 L153.30,714.70 L155.49,722.93 L157.67,731.18 L159.83,739.45 L161.97,747.73 L164.10,756.00 L166.21,764.26 L168.30,772.50 L170.38,780.72 L172.45,788.91 L174.50,797.05 L176.53,805.15 L178.56,813.19 L180.57,821.16 L182.57,829.07 L184.56,836.90 L186.54,844.64 L188.51,852.28 L190.47,859.83 L192.42,867.26 L194.36,874.58 L196.30,881.77 L198.23,888.83 L200.15,895.75 L202.07,902.52 L203.99,909.14 L205.90,915.60 L207.80,921.88 L209.71,927.99 L211.61,933.92 L213.51,939.65 L215.41,945.18 L217.31,950.51 L219.22,955.62 L221.12,960.51 L223.03,965.18 L224.95,969.61 L226.87,973.80 L228.81,977.75 L230.75,981.44 L232.71,984.87 L234.69,988.04 L236.70,990.94 L238.74,993.56 L240.83,995.90 L242.97,997.96 L245.19,999.71 L247.50,1001.14 L249.91,1002.21 L252.42,1002.88 L255.00,1003.10 L255.00,996.10 L253.67,995.97 L252.29,995.59 L250.83,994.92 L249.28,993.95 L247.65,992.64 L245.96,991.00 L244.23,989.03 L242.47,986.74 L240.68,984.13 L238.87,981.21 L237.06,978.00 L235.23,974.50 L233.40,970.72 L231.56,966.68 L229.72,962.38 L227.88,957.83 L226.03,953.04 L224.17,948.02 L222.32,942.77 L220.46,937.31 L218.60,931.65 L216.73,925.78 L214.86,919.72 L212.99,913.48 L211.11,907.07 L209.22,900.49 L207.33,893.75 L205.43,886.85 L203.52,879.82 L201.61,872.65 L199.69,865.35 L197.76,857.93 L195.82,850.40 L193.87,842.76 L191.91,835.03 L189.94,827.21 L187.96,819.31 L185.96,811.33 L183.95,803.29 L181.93,795.19 L179.90,787.04 L177.85,778.84 L175.79,770.61 L173.71,762.36 L171.61,754.08 L169.50,745.79 L167.37,737.50 L165.22,729.21 L163.05,720.93 L160.86,712.67 L158.66,704.44 L156.43,696.24 L154.18,688.08 L151.92,679.97 L149.62,671.92 L147.31,663.94 L144.97,656.02 L142.61,648.18 L140.22,640.43 L137.81,632.78Z" style="fill:#349689"/>
<path d="M255,999.6 L338.7,999.6" stroke="#349689" stroke-width="7"/>
<path d="M412,844.7 L645.4,844.7" stroke="#349689" stroke-width="6"/>
<path class="f" d="M338.70,1002.85 L341.94,1002.34 L344.90,1000.96 L347.51,998.90 L349.87,996.29 L352.04,993.19 L354.09,989.63 L356.04,985.64 L357.92,981.25 L359.74,976.49 L361.52,971.40 L363.26,966.00 L364.98,960.34 L366.67,954.45 L368.35,948.37 L370.02,942.15 L371.70,935.81 L373.38,929.39 L375.07,922.95 L376.78,916.51 L378.52,910.12 L380.29,903.82 L382.09,897.65 L383.93,891.64 L385.82,885.85 L387.76,880.30 L389.75,875.05 L391.80,870.14 L393.92,865.61 L396.09,861.50 L398.31,857.86 L400.58,854.74 L402.88,852.17 L405.17,850.19 L407.45,848.80 L409.71,847.98 L412.00,847.70 L412.00,841.70 L408.31,842.13 L404.83,843.37 L401.61,845.31 L398.63,847.86 L395.85,850.93 L393.25,854.49 L390.79,858.49 L388.44,862.89 L386.20,867.67 L384.05,872.78 L381.98,878.19 L379.98,883.87 L378.04,889.78 L376.15,895.87 L374.32,902.11 L372.52,908.47 L370.76,914.89 L369.03,921.35 L367.32,927.80 L365.63,934.20 L363.95,940.52 L362.27,946.71 L360.59,952.73 L358.90,958.54 L357.20,964.10 L355.49,969.37 L353.76,974.30 L352.00,978.85 L350.22,982.98 L348.42,986.62 L346.61,989.75 L344.82,992.29 L343.07,994.21 L341.45,995.48 L340.01,996.15 L338.70,996.35Z" style="fill:#349689"/>
<path d="M717,824.3 L799,824.3" stroke="#349689" stroke-width="4.6"/>
<path class="f" d="M645.40,847.35 L647.74,847.29 L649.99,847.14 L652.17,846.90 L654.28,846.57 L656.32,846.17 L658.30,845.70 L660.23,845.16 L662.10,844.57 L663.92,843.92 L665.70,843.22 L667.44,842.49 L669.15,841.72 L670.84,840.92 L672.50,840.10 L674.16,839.26 L675.80,838.41 L677.45,837.56 L679.10,836.71 L680.76,835.86 L682.44,835.01 L684.15,834.19 L685.88,833.38 L687.65,832.59 L689.47,831.83 L691.33,831.11 L693.25,830.42 L695.23,829.77 L697.28,829.17 L699.41,828.62 L701.62,828.12 L703.92,827.69 L706.32,827.32 L708.82,827.02 L711.43,826.80 L714.15,826.65 L717.00,826.60 L717.00,822.00 L714.00,822.04 L711.13,822.17 L708.36,822.38 L705.70,822.68 L703.15,823.05 L700.69,823.50 L698.32,824.01 L696.04,824.58 L693.84,825.20 L691.72,825.88 L689.66,826.59 L687.68,827.34 L685.75,828.13 L683.88,828.93 L682.06,829.76 L680.29,830.60 L678.56,831.45 L676.86,832.29 L675.18,833.14 L673.53,833.97 L671.90,834.79 L670.28,835.59 L668.66,836.36 L667.05,837.11 L665.43,837.81 L663.80,838.48 L662.15,839.11 L660.47,839.68 L658.77,840.21 L657.03,840.68 L655.24,841.08 L653.40,841.43 L651.51,841.70 L649.55,841.90 L647.51,842.02 L645.40,842.05Z" style="fill:#349689"/>
<path d="M868.5,773.75 L1033,773.75" stroke="#349689" stroke-width="3.8"/>
<path class="f" d="M799.00,826.40 L801.38,826.27 L803.68,825.89 L805.90,825.29 L808.02,824.47 L810.07,823.47 L812.03,822.29 L813.92,820.96 L815.75,819.49 L817.52,817.89 L819.24,816.19 L820.92,814.40 L822.58,812.52 L824.20,810.57 L825.81,808.57 L827.41,806.52 L829.01,804.44 L830.60,802.35 L832.21,800.25 L833.83,798.15 L835.46,796.08 L837.12,794.03 L838.82,792.04 L840.54,790.10 L842.31,788.23 L844.12,786.45 L845.98,784.77 L847.89,783.19 L849.87,781.73 L851.90,780.40 L854.01,779.21 L856.19,778.18 L858.45,777.30 L860.81,776.60 L863.26,776.09 L865.82,775.76 L868.50,775.65 L868.50,771.85 L865.51,771.97 L862.63,772.32 L859.87,772.89 L857.22,773.66 L854.67,774.63 L852.23,775.78 L849.89,777.08 L847.65,778.53 L845.50,780.11 L843.42,781.80 L841.43,783.60 L839.50,785.48 L837.64,787.43 L835.83,789.44 L834.08,791.50 L832.36,793.58 L830.68,795.69 L829.04,797.80 L827.42,799.91 L825.81,802.00 L824.23,804.05 L822.65,806.05 L821.07,808.00 L819.49,809.87 L817.91,811.65 L816.32,813.34 L814.71,814.91 L813.09,816.35 L811.44,817.66 L809.78,818.82 L808.09,819.82 L806.37,820.66 L804.61,821.32 L802.80,821.81 L800.94,822.10 L799.00,822.20Z" style="fill:#349689"/>
<path d="M868.5,813 L1050.5,813" stroke="#349689" stroke-width="3.8"/>
<path class="f" d="M799.00,826.40 L801.21,826.37 L803.34,826.29 L805.40,826.16 L807.40,825.98 L809.33,825.76 L811.20,825.51 L813.02,825.22 L814.80,824.89 L816.54,824.54 L818.24,824.16 L819.90,823.76 L821.55,823.34 L823.17,822.90 L824.78,822.45 L826.38,821.99 L827.97,821.52 L829.57,821.05 L831.18,820.57 L832.80,820.10 L834.45,819.63 L836.11,819.17 L837.82,818.71 L839.56,818.27 L841.34,817.85 L843.18,817.44 L845.07,817.05 L847.03,816.69 L849.06,816.35 L851.16,816.04 L853.34,815.76 L855.61,815.51 L857.98,815.30 L860.44,815.14 L863.02,815.01 L865.70,814.93 L868.50,814.90 L868.50,811.10 L865.63,811.12 L862.87,811.19 L860.23,811.31 L857.69,811.47 L855.25,811.67 L852.90,811.92 L850.64,812.19 L848.46,812.50 L846.36,812.84 L844.33,813.21 L842.37,813.60 L840.47,814.01 L838.63,814.44 L836.83,814.88 L835.09,815.34 L833.38,815.80 L831.71,816.26 L830.06,816.73 L828.45,817.20 L826.85,817.66 L825.26,818.11 L823.68,818.56 L822.10,818.99 L820.52,819.40 L818.93,819.80 L817.32,820.18 L815.69,820.53 L814.03,820.85 L812.34,821.15 L810.61,821.42 L808.83,821.65 L806.99,821.84 L805.10,822.00 L803.14,822.11 L801.11,822.18 L799.00,822.20Z" style="fill:#349689"/>
<path d="M868.5,875.75 L1088,875.75" stroke="#349689" stroke-width="3.8"/>
<path class="f" d="M799.00,826.40 L800.93,826.50 L802.79,826.80 L804.60,827.29 L806.35,827.96 L808.07,828.82 L809.77,829.84 L811.43,831.02 L813.07,832.35 L814.70,833.82 L816.30,835.42 L817.90,837.13 L819.48,838.95 L821.06,840.86 L822.63,842.84 L824.22,844.88 L825.80,846.96 L827.41,849.09 L829.03,851.23 L830.67,853.38 L832.35,855.53 L834.07,857.65 L835.82,859.75 L837.63,861.79 L839.49,863.78 L841.42,865.69 L843.41,867.52 L845.48,869.24 L847.64,870.85 L849.88,872.32 L852.22,873.65 L854.66,874.82 L857.21,875.80 L859.86,876.59 L862.63,877.18 L865.51,877.53 L868.50,877.65 L868.50,873.85 L865.82,873.73 L863.26,873.41 L860.81,872.88 L858.46,872.17 L856.20,871.28 L854.02,870.23 L851.91,869.02 L849.88,867.67 L847.91,866.18 L845.99,864.58 L844.13,862.86 L842.32,861.04 L840.55,859.14 L838.83,857.17 L837.14,855.14 L835.47,853.06 L833.84,850.95 L832.22,848.82 L830.61,846.68 L829.02,844.55 L827.42,842.43 L825.82,840.35 L824.21,838.31 L822.59,836.33 L820.94,834.42 L819.25,832.59 L817.53,830.86 L815.76,829.24 L813.94,827.74 L812.04,826.39 L810.08,825.19 L808.04,824.16 L805.91,823.33 L803.69,822.72 L801.39,822.33 L799.00,822.20Z" style="fill:#349689"/>
<path d="M717,913.5 L784,913.5" stroke="#349689" stroke-width="4.6"/>
<path class="f" d="M645.40,847.35 L647.25,847.47 L649.05,847.84 L650.80,848.46 L652.54,849.32 L654.26,850.43 L655.98,851.76 L657.68,853.32 L659.36,855.09 L661.04,857.06 L662.69,859.19 L664.34,861.49 L665.98,863.92 L667.61,866.47 L669.24,869.12 L670.87,871.85 L672.51,874.64 L674.17,877.48 L675.84,880.35 L677.54,883.22 L679.27,886.09 L681.04,888.92 L682.85,891.72 L684.71,894.45 L686.63,897.11 L688.62,899.66 L690.68,902.10 L692.82,904.41 L695.06,906.57 L697.39,908.56 L699.83,910.35 L702.38,911.93 L705.05,913.27 L707.85,914.36 L710.78,915.15 L713.83,915.64 L717.00,915.80 L717.00,911.20 L714.33,911.05 L711.77,910.62 L709.33,909.94 L706.97,909.01 L704.69,907.84 L702.48,906.46 L700.34,904.86 L698.27,903.06 L696.25,901.09 L694.28,898.94 L692.37,896.65 L690.51,894.22 L688.69,891.68 L686.92,889.04 L685.18,886.32 L683.46,883.53 L681.78,880.71 L680.12,877.85 L678.47,874.99 L676.83,872.14 L675.19,869.31 L673.55,866.53 L671.89,863.80 L670.22,861.16 L668.53,858.60 L666.80,856.16 L665.03,853.84 L663.20,851.67 L661.32,849.66 L659.35,847.83 L657.30,846.20 L655.14,844.80 L652.88,843.65 L650.49,842.78 L648.00,842.24 L645.40,842.05Z" style="fill:#349689"/>
<path d="M784,914.2 L1021.5,914.2" stroke="#349689" stroke-width="3.8"/>
<path d="M412,1011 L598.5,1011" stroke="#349689" stroke-width="6"/>
<path class="f" d="M338.70,1002.85 L340.90,1002.87 L343.02,1002.93 L345.07,1003.05 L347.04,1003.20 L348.96,1003.39 L350.81,1003.62 L352.62,1003.89 L354.39,1004.18 L356.12,1004.51 L357.83,1004.86 L359.51,1005.23 L361.17,1005.63 L362.83,1006.04 L364.49,1006.48 L366.15,1006.92 L367.82,1007.38 L369.51,1007.84 L371.22,1008.31 L372.95,1008.78 L374.72,1009.25 L376.53,1009.72 L378.38,1010.18 L380.28,1010.62 L382.24,1011.06 L384.26,1011.47 L386.34,1011.87 L388.50,1012.24 L390.73,1012.58 L393.04,1012.90 L395.45,1013.18 L397.94,1013.42 L400.53,1013.63 L403.23,1013.79 L406.03,1013.91 L408.96,1013.98 L412.00,1014.00 L412.00,1008.00 L409.06,1007.97 L406.25,1007.89 L403.55,1007.76 L400.97,1007.59 L398.49,1007.38 L396.11,1007.13 L393.83,1006.85 L391.63,1006.54 L389.51,1006.20 L387.46,1005.83 L385.48,1005.44 L383.55,1005.03 L381.68,1004.60 L379.86,1004.16 L378.07,1003.71 L376.32,1003.24 L374.59,1002.77 L372.89,1002.29 L371.19,1001.81 L369.51,1001.33 L367.82,1000.86 L366.13,1000.39 L364.42,999.93 L362.70,999.48 L360.96,999.05 L359.19,998.64 L357.38,998.26 L355.53,997.90 L353.64,997.56 L351.70,997.27 L349.70,997.00 L347.64,996.78 L345.52,996.60 L343.32,996.47 L341.05,996.38 L338.70,996.35Z" style="fill:#349689"/>
<path d="M672,953 L798,953" stroke="#349689" stroke-width="4.6"/>
<path class="f" d="M598.50,1013.65 L601.09,1013.49 L603.59,1013.04 L605.98,1012.33 L608.28,1011.37 L610.48,1010.20 L612.58,1008.82 L614.60,1007.27 L616.55,1005.57 L618.43,1003.73 L620.26,1001.77 L622.04,999.70 L623.79,997.54 L625.51,995.30 L627.21,992.99 L628.90,990.64 L630.58,988.25 L632.27,985.85 L633.96,983.43 L635.67,981.03 L637.39,978.65 L639.15,976.31 L640.93,974.02 L642.75,971.80 L644.61,969.66 L646.51,967.62 L648.47,965.69 L650.48,963.89 L652.55,962.22 L654.68,960.71 L656.89,959.35 L659.17,958.18 L661.53,957.18 L663.98,956.39 L666.54,955.80 L669.21,955.43 L672.00,955.30 L672.00,950.70 L668.80,950.83 L665.71,951.23 L662.75,951.89 L659.91,952.79 L657.19,953.92 L654.58,955.24 L652.08,956.75 L649.69,958.42 L647.40,960.24 L645.19,962.19 L643.07,964.25 L641.03,966.41 L639.05,968.66 L637.13,970.97 L635.27,973.33 L633.45,975.72 L631.67,978.14 L629.92,980.57 L628.21,982.98 L626.51,985.37 L624.83,987.73 L623.15,990.02 L621.48,992.25 L619.82,994.39 L618.14,996.43 L616.46,998.35 L614.77,1000.14 L613.06,1001.79 L611.34,1003.27 L609.60,1004.59 L607.84,1005.71 L606.05,1006.65 L604.24,1007.39 L602.39,1007.92 L600.48,1008.25 L598.50,1008.35Z" style="fill:#349689"/>
<path d="M672,991.3 L933.5,991.3" stroke="#349689" stroke-width="4.6"/>
<path class="f" d="M598.50,1013.65 L600.89,1013.59 L603.20,1013.45 L605.42,1013.21 L607.58,1012.90 L609.67,1012.52 L611.69,1012.06 L613.66,1011.54 L615.57,1010.97 L617.44,1010.34 L619.26,1009.67 L621.05,1008.96 L622.80,1008.22 L624.53,1007.45 L626.24,1006.66 L627.94,1005.85 L629.63,1005.03 L631.32,1004.21 L633.01,1003.38 L634.72,1002.56 L636.44,1001.75 L638.20,1000.95 L639.98,1000.16 L641.80,999.40 L643.67,998.67 L645.58,997.97 L647.56,997.30 L649.60,996.67 L651.71,996.09 L653.90,995.56 L656.18,995.08 L658.54,994.65 L661.01,994.30 L663.58,994.01 L666.27,993.79 L669.07,993.65 L672.00,993.60 L672.00,989.00 L668.93,989.04 L665.98,989.16 L663.15,989.37 L660.43,989.65 L657.81,990.01 L655.29,990.44 L652.87,990.93 L650.53,991.48 L648.28,992.08 L646.11,992.73 L644.00,993.42 L641.97,994.14 L640.00,994.90 L638.08,995.68 L636.22,996.47 L634.40,997.28 L632.62,998.10 L630.87,998.92 L629.16,999.73 L627.46,1000.54 L625.79,1001.33 L624.12,1002.10 L622.46,1002.85 L620.80,1003.56 L619.14,1004.25 L617.46,1004.90 L615.76,1005.50 L614.04,1006.06 L612.28,1006.57 L610.49,1007.02 L608.65,1007.41 L606.75,1007.75 L604.80,1008.01 L602.78,1008.20 L600.68,1008.32 L598.50,1008.35Z" style="fill:#349689"/>
<path d="M672,1030.6 L1109.5,1030.6" stroke="#349689" stroke-width="4.6"/>
<path class="f" d="M598.50,1013.65 L600.68,1013.68 L602.78,1013.80 L604.80,1013.99 L606.76,1014.25 L608.65,1014.58 L610.49,1014.97 L612.28,1015.42 L614.04,1015.93 L615.76,1016.49 L617.46,1017.09 L619.14,1017.73 L620.81,1018.41 L622.47,1019.13 L624.13,1019.87 L625.79,1020.64 L627.47,1021.42 L629.16,1022.22 L630.88,1023.03 L632.62,1023.85 L634.40,1024.66 L636.22,1025.47 L638.09,1026.26 L640.00,1027.03 L641.97,1027.78 L644.01,1028.50 L646.11,1029.19 L648.28,1029.83 L650.54,1030.43 L652.87,1030.98 L655.30,1031.47 L657.81,1031.89 L660.43,1032.25 L663.15,1032.53 L665.98,1032.74 L668.93,1032.86 L672.00,1032.90 L672.00,1028.30 L669.07,1028.25 L666.27,1028.11 L663.58,1027.90 L661.01,1027.61 L658.54,1027.25 L656.17,1026.83 L653.90,1026.35 L651.71,1025.82 L649.60,1025.24 L647.55,1024.62 L645.58,1023.95 L643.66,1023.25 L641.80,1022.52 L639.98,1021.77 L638.19,1020.99 L636.44,1020.19 L634.71,1019.38 L633.01,1018.57 L631.31,1017.74 L629.62,1016.92 L627.93,1016.11 L626.23,1015.30 L624.53,1014.52 L622.80,1013.75 L621.04,1013.01 L619.26,1012.31 L617.43,1011.64 L615.57,1011.02 L613.66,1010.45 L611.69,1009.93 L609.67,1009.48 L607.58,1009.09 L605.42,1008.78 L603.19,1008.55 L600.89,1008.41 L598.50,1008.35Z" style="fill:#349689"/>
<path d="M672,1069 L1076.5,1069" stroke="#349689" stroke-width="4.6"/>
<path class="f" d="M598.50,1013.65 L600.48,1013.75 L602.39,1014.08 L604.24,1014.61 L606.05,1015.35 L607.84,1016.29 L609.60,1017.41 L611.34,1018.73 L613.06,1020.21 L614.77,1021.86 L616.46,1023.65 L618.14,1025.57 L619.82,1027.61 L621.48,1029.75 L623.15,1031.98 L624.83,1034.27 L626.51,1036.63 L628.21,1039.02 L629.92,1041.43 L631.67,1043.86 L633.45,1046.28 L635.27,1048.67 L637.13,1051.03 L639.05,1053.34 L641.03,1055.59 L643.07,1057.75 L645.19,1059.81 L647.40,1061.76 L649.69,1063.58 L652.08,1065.25 L654.58,1066.76 L657.19,1068.08 L659.91,1069.21 L662.75,1070.11 L665.71,1070.77 L668.80,1071.17 L672.00,1071.30 L672.00,1066.70 L669.21,1066.57 L666.54,1066.20 L663.98,1065.61 L661.53,1064.82 L659.17,1063.82 L656.89,1062.65 L654.68,1061.29 L652.55,1059.78 L650.48,1058.11 L648.47,1056.31 L646.51,1054.38 L644.61,1052.34 L642.75,1050.20 L640.93,1047.98 L639.15,1045.69 L637.39,1043.35 L635.67,1040.97 L633.96,1038.57 L632.27,1036.15 L630.58,1033.75 L628.90,1031.36 L627.21,1029.01 L625.51,1026.70 L623.79,1024.46 L622.04,1022.30 L620.26,1020.23 L618.43,1018.27 L616.55,1016.43 L614.60,1014.73 L612.58,1013.18 L610.48,1011.80 L608.28,1010.63 L605.98,1009.67 L603.59,1008.96 L601.09,1008.51 L598.50,1008.35Z" style="fill:#349689"/>
<path d="M415,1166 L632,1166" stroke="#349689" stroke-width="6"/>
<path class="f" d="M338.70,1002.85 L340.08,1003.07 L341.60,1003.80 L343.31,1005.18 L345.14,1007.27 L347.02,1010.02 L348.92,1013.39 L350.80,1017.33 L352.65,1021.77 L354.48,1026.67 L356.29,1031.97 L358.08,1037.63 L359.85,1043.61 L361.60,1049.86 L363.35,1056.33 L365.10,1062.98 L366.85,1069.77 L368.61,1076.65 L370.39,1083.58 L372.19,1090.51 L374.02,1097.41 L375.89,1104.24 L377.80,1110.94 L379.76,1117.48 L381.78,1123.82 L383.86,1129.91 L386.01,1135.72 L388.25,1141.20 L390.57,1146.33 L393.01,1151.04 L395.56,1155.32 L398.26,1159.13 L401.13,1162.42 L404.22,1165.14 L407.56,1167.21 L411.17,1168.54 L415.00,1169.00 L415.00,1163.00 L412.60,1162.70 L410.24,1161.82 L407.86,1160.32 L405.45,1158.17 L403.04,1155.40 L400.67,1152.02 L398.35,1148.10 L396.08,1143.68 L393.88,1138.80 L391.74,1133.51 L389.66,1127.86 L387.64,1121.90 L385.67,1115.67 L383.75,1109.21 L381.87,1102.58 L380.03,1095.80 L378.23,1088.94 L376.44,1082.02 L374.68,1075.10 L372.93,1068.21 L371.19,1061.40 L369.45,1054.72 L367.70,1048.19 L365.93,1041.87 L364.15,1035.79 L362.34,1030.00 L360.49,1024.53 L358.60,1019.43 L356.65,1014.73 L354.62,1010.46 L352.50,1006.66 L350.25,1003.35 L347.82,1000.56 L345.12,998.37 L342.06,996.89 L338.70,996.35Z" style="fill:#349689"/>
<path d="M699,1108.2 L1036.5,1108.2" stroke="#349689" stroke-width="4.6"/>
<path class="f" d="M632.00,1168.65 L634.42,1168.49 L636.74,1168.03 L638.97,1167.31 L641.10,1166.34 L643.12,1165.15 L645.06,1163.77 L646.91,1162.22 L648.69,1160.52 L650.41,1158.68 L652.07,1156.72 L653.70,1154.66 L655.29,1152.50 L656.86,1150.27 L658.41,1147.97 L659.95,1145.63 L661.48,1143.25 L663.02,1140.85 L664.56,1138.45 L666.12,1136.05 L667.69,1133.68 L669.29,1131.35 L670.91,1129.07 L672.57,1126.86 L674.26,1124.73 L675.99,1122.70 L677.77,1120.78 L679.60,1118.98 L681.48,1117.33 L683.41,1115.83 L685.41,1114.49 L687.46,1113.33 L689.59,1112.35 L691.80,1111.57 L694.09,1110.99 L696.49,1110.63 L699.00,1110.50 L699.00,1105.90 L696.04,1106.03 L693.20,1106.44 L690.46,1107.11 L687.84,1108.01 L685.34,1109.14 L682.94,1110.47 L680.65,1111.98 L678.46,1113.66 L676.36,1115.48 L674.34,1117.43 L672.41,1119.49 L670.54,1121.64 L668.73,1123.88 L666.98,1126.18 L665.28,1128.54 L663.62,1130.93 L662.00,1133.34 L660.41,1135.75 L658.84,1138.16 L657.29,1140.54 L655.76,1142.89 L654.23,1145.18 L652.71,1147.40 L651.19,1149.53 L649.66,1151.56 L648.13,1153.48 L646.59,1155.26 L645.04,1156.89 L643.47,1158.37 L641.90,1159.67 L640.31,1160.78 L638.70,1161.70 L637.08,1162.42 L635.44,1162.94 L633.75,1163.25 L632.00,1163.35Z" style="fill:#349689"/>
<path d="M699,1146.5 L824,1146.5" stroke="#349689" stroke-width="4.6"/>
<path class="f" d="M632.00,1168.65 L634.20,1168.59 L636.32,1168.45 L638.37,1168.22 L640.35,1167.90 L642.27,1167.52 L644.13,1167.06 L645.93,1166.55 L647.69,1165.97 L649.40,1165.35 L651.07,1164.68 L652.71,1163.98 L654.31,1163.24 L655.89,1162.48 L657.45,1161.69 L659.00,1160.89 L660.54,1160.08 L662.08,1159.26 L663.63,1158.45 L665.18,1157.63 L666.75,1156.83 L668.34,1156.04 L669.96,1155.27 L671.62,1154.52 L673.31,1153.79 L675.05,1153.10 L676.84,1152.44 L678.69,1151.83 L680.60,1151.25 L682.59,1150.73 L684.65,1150.25 L686.80,1149.84 L689.03,1149.49 L691.36,1149.20 L693.80,1148.99 L696.34,1148.85 L699.00,1148.80 L699.00,1144.20 L696.19,1144.24 L693.49,1144.36 L690.90,1144.57 L688.40,1144.85 L686.00,1145.21 L683.70,1145.63 L681.47,1146.12 L679.33,1146.67 L677.27,1147.27 L675.28,1147.91 L673.35,1148.60 L671.49,1149.32 L669.68,1150.07 L667.93,1150.84 L666.22,1151.63 L664.56,1152.43 L662.94,1153.24 L661.34,1154.05 L659.78,1154.86 L658.23,1155.66 L656.71,1156.44 L655.19,1157.20 L653.68,1157.94 L652.17,1158.65 L650.66,1159.32 L649.14,1159.96 L647.60,1160.55 L646.04,1161.10 L644.45,1161.60 L642.83,1162.05 L641.16,1162.43 L639.45,1162.76 L637.69,1163.02 L635.86,1163.21 L633.97,1163.32 L632.00,1163.35Z" style="fill:#349689"/>
<path d="M824,1146.5 L1191.5,1146.5" stroke="#349689" stroke-width="3.8"/>
<path d="M699,1185 L997.5,1185" stroke="#349689" stroke-width="4.6"/>
<path class="f" d="M632.00,1168.65 L633.97,1168.68 L635.87,1168.79 L637.70,1168.97 L639.46,1169.23 L641.18,1169.54 L642.84,1169.92 L644.46,1170.35 L646.05,1170.84 L647.62,1171.37 L649.16,1171.95 L650.68,1172.58 L652.19,1173.23 L653.70,1173.92 L655.21,1174.64 L656.73,1175.38 L658.26,1176.15 L659.80,1176.92 L661.37,1177.71 L662.96,1178.50 L664.58,1179.29 L666.25,1180.07 L667.95,1180.84 L669.70,1181.59 L671.51,1182.32 L673.37,1183.02 L675.29,1183.69 L677.28,1184.32 L679.35,1184.90 L681.49,1185.43 L683.71,1185.90 L686.01,1186.32 L688.41,1186.67 L690.90,1186.94 L693.50,1187.15 L696.19,1187.27 L699.00,1187.30 L699.00,1182.70 L696.34,1182.65 L693.79,1182.52 L691.36,1182.31 L689.02,1182.03 L686.79,1181.69 L684.64,1181.28 L682.57,1180.82 L680.59,1180.31 L678.67,1179.75 L676.82,1179.14 L675.03,1178.50 L673.29,1177.83 L671.60,1177.12 L669.94,1176.39 L668.32,1175.64 L666.73,1174.87 L665.16,1174.08 L663.60,1173.29 L662.06,1172.50 L660.52,1171.70 L658.98,1170.91 L657.43,1170.13 L655.87,1169.36 L654.29,1168.62 L652.68,1167.90 L651.05,1167.21 L649.38,1166.56 L647.67,1165.96 L645.92,1165.40 L644.11,1164.90 L642.25,1164.45 L640.34,1164.08 L638.36,1163.77 L636.31,1163.55 L634.19,1163.41 L632.00,1163.35Z" style="fill:#349689"/>
<path d="M699,1223.5 L866,1223.5" stroke="#349689" stroke-width="4.6"/>
<path class="f" d="M632.00,1168.65 L633.75,1168.75 L635.44,1169.06 L637.09,1169.58 L638.71,1170.29 L640.31,1171.21 L641.90,1172.32 L643.48,1173.61 L645.04,1175.07 L646.60,1176.70 L648.14,1178.47 L649.67,1180.38 L651.19,1182.40 L652.71,1184.52 L654.24,1186.73 L655.76,1189.01 L657.30,1191.34 L658.84,1193.71 L660.41,1196.10 L662.00,1198.51 L663.63,1200.90 L665.29,1203.28 L666.99,1205.62 L668.74,1207.91 L670.54,1210.14 L672.41,1212.28 L674.35,1214.33 L676.36,1216.27 L678.46,1218.08 L680.65,1219.75 L682.95,1221.25 L685.34,1222.58 L687.85,1223.70 L690.47,1224.60 L693.20,1225.26 L696.04,1225.67 L699.00,1225.80 L699.00,1221.20 L696.49,1221.07 L694.09,1220.71 L691.79,1220.14 L689.59,1219.36 L687.46,1218.38 L685.40,1217.23 L683.41,1215.90 L681.47,1214.40 L679.59,1212.76 L677.77,1210.97 L675.99,1209.07 L674.26,1207.05 L672.56,1204.93 L670.91,1202.73 L669.28,1200.46 L667.69,1198.14 L666.11,1195.78 L664.56,1193.40 L663.02,1191.01 L661.48,1188.62 L659.95,1186.25 L658.41,1183.92 L656.86,1181.64 L655.29,1179.42 L653.70,1177.27 L652.07,1175.22 L650.40,1173.27 L648.68,1171.44 L646.90,1169.75 L645.05,1168.20 L643.12,1166.83 L641.09,1165.65 L638.97,1164.69 L636.74,1163.96 L634.41,1163.51 L632.00,1163.35Z" style="fill:#349689"/>
</svg>
<div class="t" style="left:262px;top:84.30px">区块链项目的价值</div>
<div class="t" style="left:556px;top:45.30px">ICO蛮荒时代已经过去，慢慢回归理性</div>
<div class="t" style="left:556px;top:84.30px">有价值的项目能存活、增长</div>
<div class="t" style="left:556px;top:122.70px">没有价值的项目会被鉴定出来，死掉</div>
<div class="t" style="left:262px;top:278.00px">什么是有价值的区块链项目</div>
<div class="t" style="left:552px;top:200.00px">即能革命又能细分垄断</div>
<div class="t" style="left:808px;top:161.10px">有能力在“旧世界”把项目做好；</div>
<div class="t" style="left:808px;top:200.20px">同时有能力把项目迁移到区块链</div>
<div class="t" style="left:808px;top:238.50px">旧应用+区块链技术运行=细分市场垄断</div>
<div class="t" style="left:552px;top:335.80px">有价值项目的特征</div>
<div class="t" style="left:774px;top:276.90px">1.省下的成本非常大</div>
<div class="t" style="left:774px;top:316.20px">2.原先这块市场总价值足够高</div>
<div class="t" style="left:774px;top:354.70px">3.该问题革命成功就只差“区块链”化这一步</div>
<div class="t" style="left:774px;top:393.70px">4.第3条标准是鉴定项目是一般还是优质的关键</div>
<div class="t" style="left:262px;top:572.80px">运营团队</div>
<div class="t" style="left:416px;top:471.00px">基础链</div>
<div class="t" style="left:555px;top:459.00px">创办团队做过区块链项目<br>或有深厚密码学背景</div>
<div class="t" style="left:892px;top:432.10px">鉴定团队能否做出项目</div>
<div class="t" style="left:892px;top:471.30px">鉴定团队能否设计出“生态圈”</div>
<div class="t" style="left:892px;top:509.00px">生态圈大小决定基础链的价值</div>
<div class="t" style="left:416px;top:631.10px">应用链</div>
<div class="t" style="left:555px;top:547.90px">理论上区块链是去中心化的</div>
<div class="t" style="left:555px;top:587.50px">实际上能解决真实世界的问题且越多人用越好</div>
<div class="t" style="left:555px;top:668.50px">若团队想解决的痛点存于市场风口</div>
<div class="t" style="left:992px;top:626.40px">但之前没有做过非区块链<br>项目，不是好的投资标的</div>
<div class="t" style="left:992px;top:689.30px">之前做过非区块链项目，则要问<br>区块链的模式如何攻下原有市场</div>
<div class="t" style="left:262px;top:977.10px">跑路问题</div>
<div class="t" style="left:417px;top:822.20px">如何鉴别这个团队是否是真的</div>
<div class="t" style="left:724px;top:801.80px">Linkedin</div>
<div class="t" style="left:875px;top:751.25px">创始人履历越长越好</div>
<div class="t" style="left:875px;top:790.50px">创始人履历短的不要碰</div>
<div class="t" style="left:875px;top:829.25px">区块链投资收益谨慎参考，<br>忘记密码轻松做到几百倍</div>
<div class="t" style="left:724px;top:891.00px">Github</div>
<div class="t" style="left:862px;top:891.70px">看开源代码更新情况</div>
<div class="t" style="left:417px;top:988.50px">如何鉴别团队是否严谨</div>
<div class="t" style="left:673px;top:930.50px">有没有真实代码</div>
<div class="t" style="left:673px;top:968.80px">真实代码是否找专业审计公司看过</div>
<div class="t" style="left:673px;top:1008.10px">有没有法律团队，看过多数的法律问题，且设计法律框架</div>
<div class="t" style="left:673px;top:1046.50px">夸张的讲，如果有这三项，其他指标都可以忽略不看</div>
<div class="t" style="left:417px;top:1143.50px">如何鉴定技术团队是否吹牛</div>
<div class="t" style="left:706px;top:1085.70px">CTO过去没有牛逼的产品，只是一个路人</div>
<div class="t" style="left:706px;top:1124.00px">产品delay发布</div>
<div class="t" style="left:902.5px;top:1124.00px">最晚6个月必须要有working prototype</div>
<div class="t" style="left:706px;top:1162.50px">如果三个月没有demo / beta，否决！</div>
<div class="t" style="left:706px;top:1201.00px">无法招募到技术团队</div>
<div class="center"></div>
<div style="position:absolute;left:1279px;top:0;width:1px;height:1267px;background:#d9f3f7"></div>
<div class="ct">我如何看项目<br>By：Xdite<br>整理：晏文春</div>
</body></html>
